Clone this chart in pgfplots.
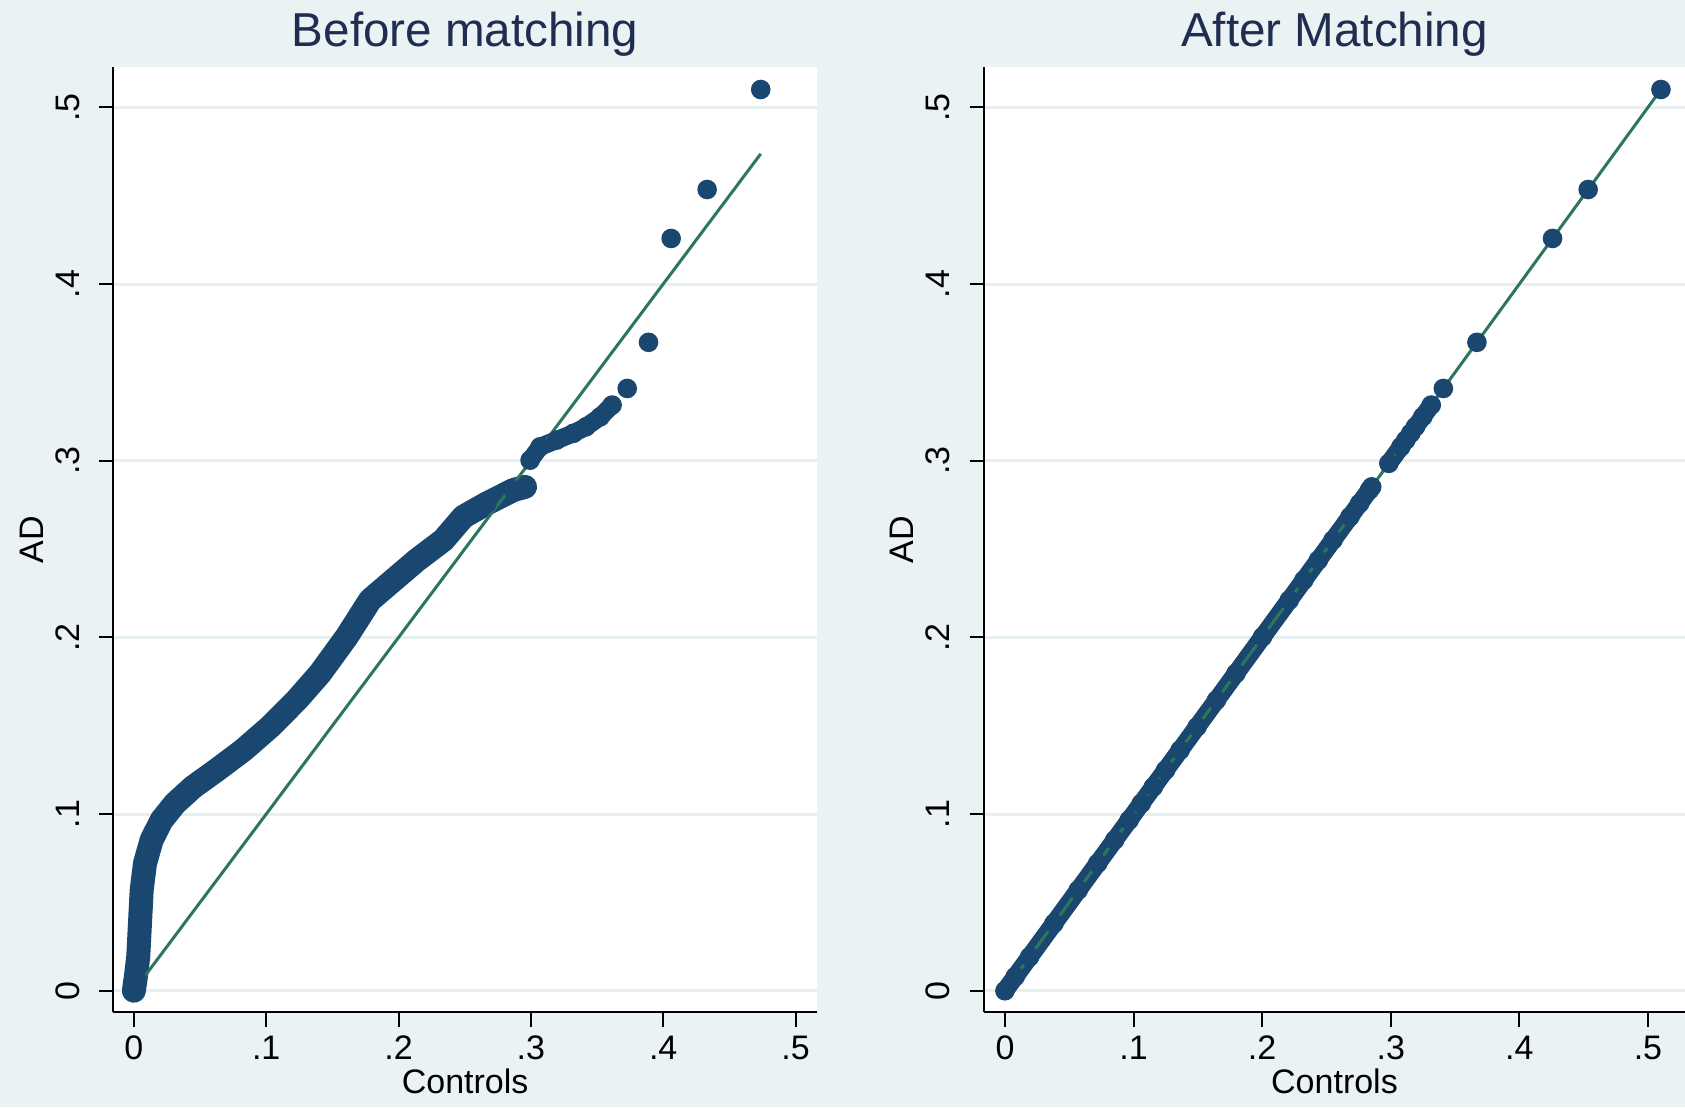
\documentclass[border=0pt]{standalone}
\usepackage{fontspec}
\setmainfont{Liberation Sans}
\usepackage{pgfplots}
\pgfplotsset{compat=1.18}
\definecolor{bg}{HTML}{EAF2F3}
\definecolor{navy}{HTML}{1A476F}
\definecolor{refgreen}{HTML}{2E755E}
\definecolor{titlenavy}{HTML}{1E2D50}
\definecolor{gridc}{HTML}{E8EFF1}

\pgfplotstableread{
x y
0 0
0.0015 0.008
0.0033 0.0192
0.0046 0.0381
0.0059 0.057
0.0084 0.0721
0.0134 0.0853
0.021 0.0966
0.0311 0.106
0.0449 0.1154
0.0626 0.1249
0.0827 0.1362
0.1029 0.1494
0.123 0.1645
0.1407 0.1796
0.1608 0.2003
0.1785 0.2211
0.1961 0.2324
0.2138 0.2437
0.2339 0.2551
0.249 0.2683
0.2667 0.2758
0.2868 0.2834
0.2956 0.2852
}\beforeA

\pgfplotstableread{
x y
0.2994 0.3003
0.307 0.3079
0.3196 0.3117
0.3321 0.3155
0.3417 0.3192
0.3525 0.3249
0.3614 0.3315
}\beforeB

\pgfplotstableread{
x y
0.3728 0.3409
0.3889 0.367
0.406 0.4258
0.4332 0.4535
0.4737 0.5101
}\beforeC

\pgfplotstableread{
x y
0 0
0.008 0.008
0.0192 0.0192
0.0381 0.0381
0.057 0.057
0.0721 0.0721
0.0853 0.0853
0.0966 0.0966
0.106 0.106
0.1154 0.1154
0.1249 0.1249
0.1362 0.1362
0.1494 0.1494
0.1645 0.1645
0.1796 0.1796
0.2003 0.2003
0.2211 0.2211
0.2324 0.2324
0.2437 0.2437
0.2551 0.2551
0.2683 0.2683
0.2758 0.2758
0.2834 0.2834
0.2852 0.2852
}\afterA

\pgfplotstableread{
x y
0.2985 0.2985
0.3079 0.3079
0.3117 0.3117
0.3155 0.3155
0.3192 0.3192
0.3249 0.3249
0.3315 0.3315
}\afterB

\pgfplotstableread{
x y
0.3409 0.3409
0.367 0.367
0.4258 0.4258
0.4535 0.4535
0.5101 0.5101
}\afterC

\pgfplotsset{
  statastyle/.style={
    scale only axis,
    height=236.4pt,
    axis x line*=bottom, axis y line*=left,
    axis line style={black, line width=0.5pt, -},
    axis background/.style={fill=white},
    tick align=outside,
    major tick length=3.6pt,
    tick style={black, line width=0.5pt},
    ymin=-0.0122, ymax=0.523,
    xtick={0,0.1,0.2,0.3,0.4,0.5},
    ytick={0,0.1,0.2,0.3,0.4,0.5},
    xticklabels={0,.1,.2,.3,.4,.5},
    yticklabels={0,.1,.2,.3,.4,.5},
    minor tick num=0,
    ymajorgrids,
    grid style={gridc, line width=0.75pt},
    tick label style={font=\fontsize{8.5}{10}\selectfont, text=black},
    yticklabel style={rotate=90, anchor=base},
    yticklabel shift=5pt,
    xticklabel style={yshift=1.3pt},
    label style={font=\fontsize{8.5}{10}\selectfont, text=black},
    xlabel={Controls}, ylabel={AD},
    xlabel style={at={(axis description cs:0.5,-0.0854)}, anchor=base},
    ylabel style={at={(axis description cs:-0.1001,0.5)}, rotate=0, anchor=base},
    title style={at={(axis description cs:0.5,0.9958)}, anchor=base,
      font=\fontsize{11.9}{14}\selectfont, text=titlenavy},
  },
  band/.style={navy, line width=#1, line join=round, line cap=round, no marks},
  dots/.style={only marks, mark=*, mark size=2.25pt, mark options={fill=navy, draw=navy}},
}

\begin{document}
\begin{tikzpicture}
\fill[bg] (0,0) rectangle (421.25pt,276.75pt);

\begin{axis}[statastyle, at={(28.375pt,23.675pt)}, anchor=south west,
  width=175.8pt, xmin=-0.0154, xmax=0.516, title={Before matching}]
\addplot[band=6pt] table[x=x,y=y] {\beforeA};
\addplot[band=4.5pt] table[x=x,y=y] {\beforeB};
\addplot[dots] table[x=x,y=y] {\beforeA};
\addplot[dots] table[x=x,y=y] {\beforeB};
\addplot[dots] table[x=x,y=y] {\beforeC};
\addplot[refgreen, line width=0.75pt, no marks] coordinates {(0,0) (0.4737,0.4737)};
\end{axis}

\begin{axis}[statastyle, at={(246pt,23.675pt)}, anchor=south west,
  width=175.25pt, xmin=-0.0163, xmax=0.5288, title={After Matching}]
\addplot[band=4.5pt] table[x=x,y=y] {\afterA};
\addplot[band=4.5pt] table[x=x,y=y] {\afterB};
\addplot[dots] table[x=x,y=y] {\afterA};
\addplot[dots] table[x=x,y=y] {\afterB};
\addplot[dots] table[x=x,y=y] {\afterC};
\addplot[refgreen, line width=0.75pt, no marks] coordinates {(0,0) (0.5101,0.5101)};
\end{axis}

\pgfresetboundingbox
\useasboundingbox (0,0) rectangle (421.25pt,276.75pt);
\end{tikzpicture}
\end{document}
